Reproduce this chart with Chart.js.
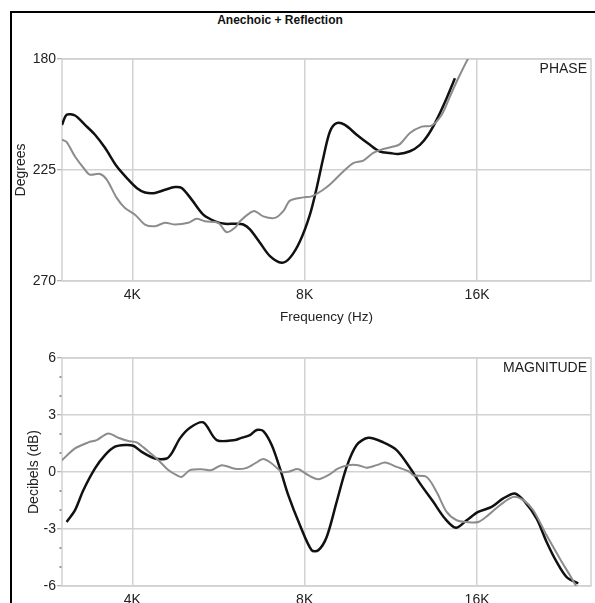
<!DOCTYPE html>
<html>
<head>
<meta charset="utf-8">
<script src="https://cdn.jsdelivr.net/npm/chart.js@4.4.1/dist/chart.umd.min.js"></script>
<style>
  html, body { margin: 0; padding: 0; background: #fff; overflow: hidden; }
  body { width: 595px; height: 603px; position: relative; }
  #frame { position: absolute; left: 10px; top: 11px; width: 600px; height: 600px;
           border-top: 2px solid #000; border-left: 2px solid #000; }
  #title { position: absolute; left: 180px; width: 200px; top: 13px; text-align: center;
           font: bold 12px "Liberation Sans", Arial, sans-serif; color: #111; }
  canvas { position: absolute; left: 0; }
  #phase { top: 0; }
  #mag { top: 330px; }
</style>
</head>
<body>
<div id="frame"></div>
<div id="title">Anechoic + Reflection</div>
<canvas id="phase" width="595" height="330"></canvas>
<canvas id="mag" width="595" height="300"></canvas>
<script>
// frequency axis (Hz), log scale
const freqTicks = [4000, 8000, 16000];
const phaseTicks = [180, 225, 270];
const magTicks = [-6, -3, 0, 3, 6];
const magMinorTicks = [-5, -4, -2, -1, 1, 2, 4, 5];

// PHASE panel
const phaseFreqBlack = [3015, 3072, 3177, 3307, 3443, 3584, 3757, 3911, 4071, 4209, 4382, 4562, 4749, 4879, 5079, 5321, 5578, 5806, 6045, 6250, 6420, 6684, 6958, 7294, 7541, 7850, 8171, 8395, 8621, 8856, 9098, 9406, 9860, 10401, 10828, 11273, 11654, 12216, 12718, 13149, 13600, 14158, 14638];
const phaseBlack = [206.7, 202.6, 202.9, 206.7, 210.7, 216.0, 223.5, 228.2, 232.3, 234.1, 234.3, 233.0, 231.9, 232.3, 237.0, 243.1, 245.8, 246.8, 246.8, 247.1, 249.1, 254.5, 259.9, 262.6, 260.6, 253.9, 243.1, 232.3, 220.1, 209.4, 206.0, 206.7, 210.7, 214.8, 217.5, 218.1, 218.5, 217.4, 214.8, 210.7, 204.7, 195.9, 187.8];
const phaseFreqGray = [3015, 3072, 3177, 3307, 3374, 3513, 3609, 3757, 3884, 4044, 4209, 4382, 4562, 4749, 5010, 5181, 5357, 5652, 5846, 6045, 6168, 6420, 6551, 6774, 7100, 7341, 7541, 7954, 8229, 8566, 8856, 9343, 9727, 10128, 10541, 10975, 11424, 11734, 12216, 12804, 13330, 13877, 14348, 14835, 15443, 16200];
const phaseGray = [212.7, 213.7, 219.5, 224.9, 226.9, 226.6, 228.9, 236.3, 240.4, 243.1, 247.1, 247.8, 246.4, 247.1, 246.4, 244.8, 245.8, 246.4, 250.2, 248.4, 245.8, 242.4, 241.7, 243.8, 244.4, 241.7, 237.4, 236.1, 235.7, 233.4, 230.9, 225.6, 222.2, 221.2, 218.1, 216.5, 215.5, 214.5, 210.0, 207.4, 207.0, 202.6, 195.2, 187.8, 179.7, 171.0];

// MAGNITUDE panel
const magFreqBlack = [3072, 3177, 3285, 3443, 3584, 3731, 3884, 4016, 4154, 4382, 4593, 4686, 4845, 5044, 5321, 5616, 6045, 6168, 6420, 6596, 6774, 7006, 7243, 7489, 7850, 8229, 8450, 8740, 9098, 9471, 9860, 10331, 10975, 11579, 12216, 12718, 13416, 14062, 14697, 15344, 16076, 16967, 17777, 18634, 19396, 20332, 21165, 22035, 22939, 24033];
const magBlack = [-2.63, -2.01, -0.96, 0.19, 0.89, 1.33, 1.42, 1.38, 1.06, 0.71, 0.71, 0.98, 1.77, 2.33, 2.61, 1.68, 1.68, 1.77, 1.94, 2.21, 2.15, 1.42, 0.19, -1.22, -2.80, -4.12, -4.12, -3.42, -1.57, 0.27, 1.42, 1.80, 1.56, 1.15, 0.22, -0.60, -1.57, -2.45, -2.94, -2.54, -2.10, -1.84, -1.39, -1.13, -1.57, -2.45, -3.68, -4.73, -5.53, -5.87];
const magFreqGray = [3015, 3177, 3351, 3466, 3632, 3781, 3936, 4071, 4238, 4412, 4623, 4781, 4879, 5044, 5287, 5504, 5729, 6045, 6293, 6551, 6774, 7006, 7294, 7489, 7796, 8116, 8450, 8795, 9158, 9533, 9923, 10264, 10686, 11047, 11579, 12216, 12380, 13064, 13600, 14158, 14740, 15344, 16076, 16736, 17542, 18508, 19265, 20058, 21165, 22328, 23245, 23881];
const magGray = [0.62, 1.24, 1.56, 1.68, 2.03, 1.80, 1.63, 1.56, 1.15, 0.71, 0.10, -0.17, -0.26, 0.10, 0.15, 0.10, 0.36, 0.17, 0.19, 0.45, 0.68, 0.45, 0.01, 0.01, 0.15, -0.17, -0.38, -0.17, 0.19, 0.36, 0.36, 0.22, 0.36, 0.50, 0.27, 0.0, -0.17, -0.26, -1.05, -2.10, -2.54, -2.63, -2.63, -2.27, -1.75, -1.31, -1.48, -2.01, -3.33, -4.56, -5.44, -6.05];

const FONT = '"Liberation Sans", Arial, sans-serif';
const GRID = '#d2d2d2';
const TEXT = '#222';

Chart.defaults.font.family = FONT;
Chart.defaults.font.size = 14;
Chart.defaults.color = TEXT;
Chart.defaults.animation = false;

const pts = (xs, ys) => xs.map((x, i) => ({ x: x, y: ys[i] }));

const lineSet = (data, color, width) => ({
    data: data,
    borderColor: color,
    borderWidth: width,
    pointRadius: 0,
    tension: 0.3,
    fill: false
});

// plot box, corner label, minor ticks
const panelDecor = {
    id: 'panelDecor',
    beforeDatasetsDraw(chart, args, opts) {
        const { ctx, chartArea: a } = chart;
        ctx.save();
        ctx.strokeStyle = GRID;
        ctx.lineWidth = 1.5;
        ctx.strokeRect(a.left, a.top, a.right - a.left, a.bottom - a.top);
        if (opts.minor) {
            const ys = chart.scales.y;
            ctx.fillStyle = '#9a9a9a';
            opts.minor.forEach(v => {
                const py = ys.getPixelForValue(v);
                ctx.fillRect(a.left - 2.5, py - 1, 2, 2);
            });
        }
        ctx.restore();
    },
    afterDraw(chart, args, opts) {
        const { ctx, chartArea: a } = chart;
        ctx.save();
        ctx.fillStyle = TEXT;
        ctx.font = '14px ' + FONT;
        ctx.textAlign = 'right';
        ctx.textBaseline = 'top';
        ctx.fillText(opts.label, a.right - 4, a.top + 3);
        ctx.restore();
    }
};

const xScale = (withTitle, height) => ({
    type: 'logarithmic',
    min: 3015,
    max: 25300,
    afterBuildTicks: s => { s.ticks = freqTicks.map(v => ({ value: v })); },
    afterFit: s => { s.height = height; },
    grid: { color: GRID, lineWidth: 1.5, drawTicks: false },
    border: { display: false },
    ticks: {
        padding: 6,
        autoSkip: false,
        maxRotation: 0,
        callback: v => (v / 1000) + 'K'
    },
    title: {
        display: withTitle,
        text: 'Frequency (Hz)',
        font: { size: 13.5 },
        padding: { top: 0, bottom: 5 }
    }
});

const yScale = (opts) => Object.assign({
    type: 'linear',
    afterFit: s => { s.width = 62; },
    grid: { color: GRID, lineWidth: 1.5, tickLength: 5, tickColor: '#9a9a9a', tickWidth: 1 },
    border: { display: false },
    ticks: { padding: 1 }
}, opts);

new Chart(document.getElementById('phase'), {
    type: 'line',
    data: {
        datasets: [
            lineSet(pts(phaseFreqGray, phaseGray), '#8c8c8c', 2),
            lineSet(pts(phaseFreqBlack, phaseBlack), '#111', 2.5)
        ]
    },
    options: {
        responsive: false,
        layout: { padding: { top: 59, right: 4, left: 0, bottom: 0 } },
        plugins: {
            legend: { display: false },
            tooltip: { enabled: false },
            panelDecor: { label: 'PHASE' }
        },
        scales: {
            x: xScale(true, 49),
            y: yScale({
                reverse: true,
                min: 180,
                max: 270,
                afterBuildTicks: s => { s.ticks = phaseTicks.map(v => ({ value: v })); },
                title: { display: true, text: 'Degrees', padding: { top: 13, bottom: 0 } }
            })
        }
    },
    plugins: [panelDecor]
});

new Chart(document.getElementById('mag'), {
    type: 'line',
    data: {
        datasets: [
            lineSet(pts(magFreqGray, magGray), '#8c8c8c', 2),
            lineSet(pts(magFreqBlack, magBlack), '#111', 2.5)
        ]
    },
    options: {
        responsive: false,
        layout: { padding: { top: 28, right: 4, left: 0, bottom: 0 } },
        plugins: {
            legend: { display: false },
            tooltip: { enabled: false },
            panelDecor: { label: 'MAGNITUDE', minor: magMinorTicks }
        },
        scales: {
            x: xScale(false, 44),
            y: yScale({
                min: -6,
                max: 6,
                afterBuildTicks: s => { s.ticks = magTicks.map(v => ({ value: v })); },
                title: { display: true, text: 'Decibels (dB)', padding: { top: 26, bottom: 0 } }
            })
        }
    },
    plugins: [panelDecor]
});
</script>
</body>
</html>
